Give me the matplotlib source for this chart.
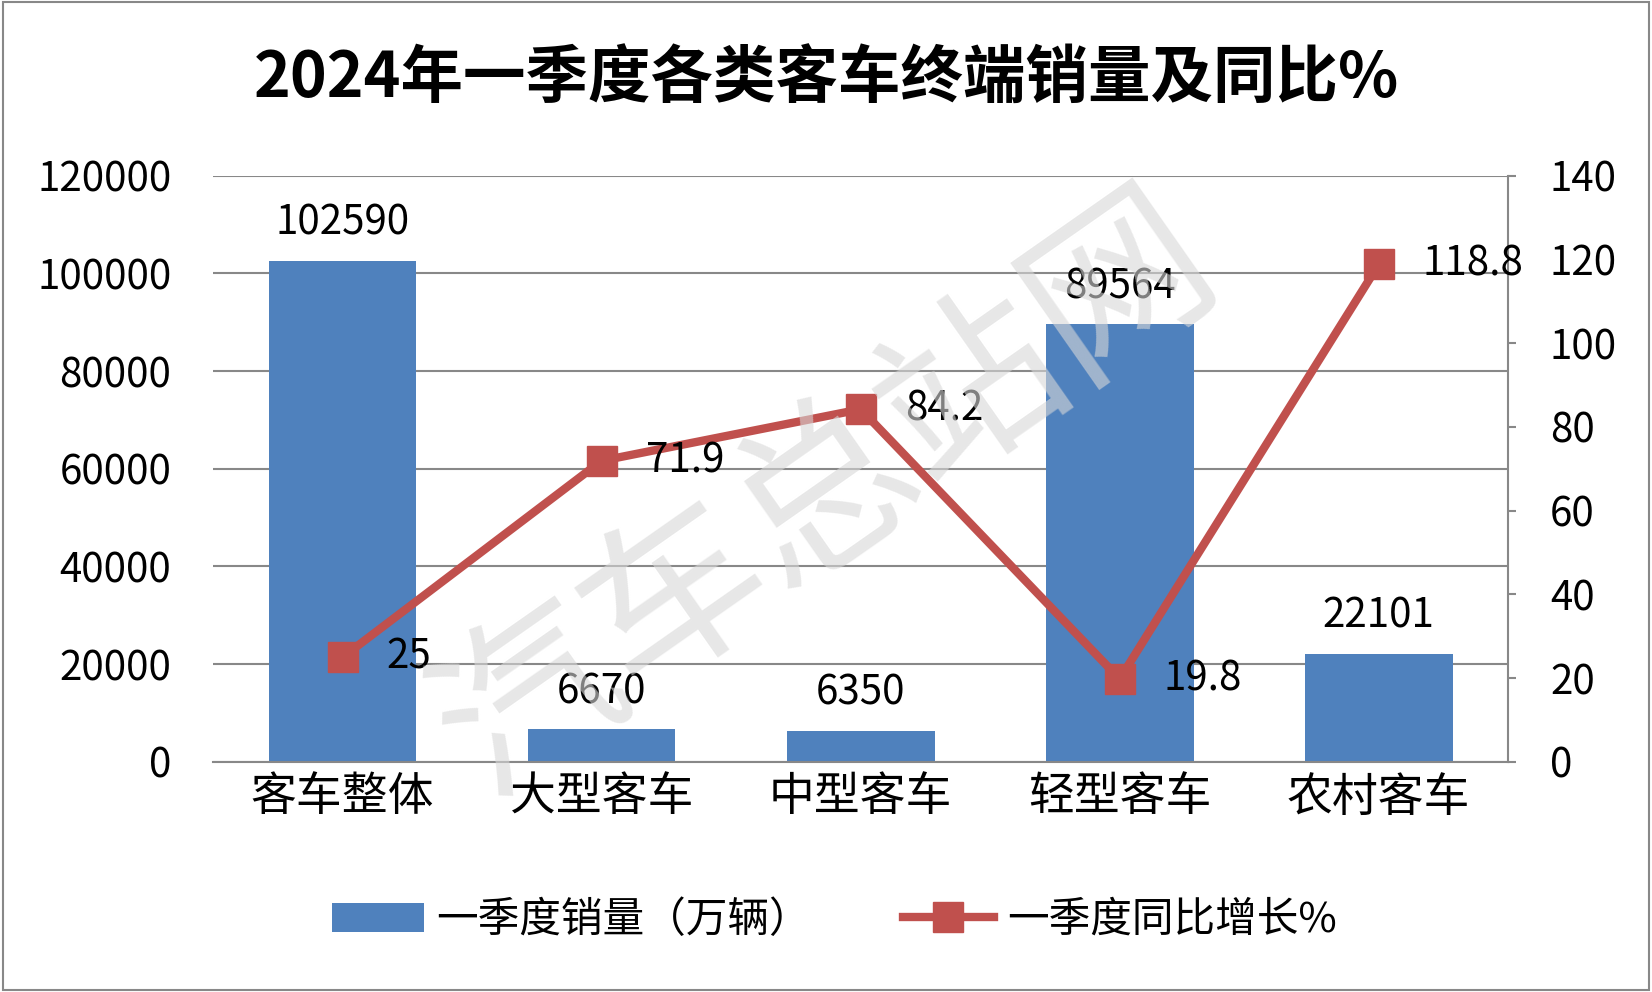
import matplotlib
matplotlib.use("Agg")
import matplotlib.pyplot as plt
from matplotlib.patches import Rectangle

plt.rcParams['font.family'] = ['Noto Sans CJK SC', 'DejaVu Sans']

categories = ['客车整体', '大型客车', '中型客车', '轻型客车', '农村客车']
sales = [102590, 6670, 6350, 89564, 22101]
growth = [25, 71.9, 84.2, 19.8, 118.8]
growth_labels = ['25', '71.9', '84.2', '19.8', '118.8']

fig = plt.figure(figsize=(16.52, 9.92), dpi=100)
fig.patches.append(Rectangle((0.002, 0.002), 0.996, 0.996, transform=fig.transFigure,
                             fill=False, edgecolor='#888888', lw=1.5))
ax = fig.add_axes([0.129, 0.232, 0.784, 0.591])
x = range(len(categories))
blue = '#4F81BD'
red = '#C0504D'
ax.bar(x, sales, width=0.57, color=blue, zorder=2, label='一季度销量（万辆）')
ax.set_ylim(0, 120000)
ax.set_xlim(-0.5, 4.5)
ax.set_yticks(range(0, 120001, 20000))
ax.grid(axis='y', color='#888888', lw=1.5, zorder=0)
for s in ['top', 'right', 'left']:
    ax.spines[s].set_visible(False)
ax.spines['bottom'].set_color('#888888')
ax.spines['bottom'].set_linewidth(1.5)
ax.tick_params(axis='y', length=0, labelsize=29, pad=30)
ax.tick_params(axis='x', length=0, labelsize=33, pad=8)
ax.set_xticks(list(x))
ax.set_xticklabels(categories)
for i, v in enumerate(sales):
    ax.text(i, v + 3500, str(v), ha='center', va='bottom', fontsize=29)

ax2 = ax.twinx()
ax2.plot(list(x), growth, color=red, lw=6, marker='s', markersize=22, zorder=3,
         label='一季度同比增长%')
ax2.set_ylim(0, 140)
ax2.set_yticks(range(0, 141, 20))
for s in ['top', 'left', 'bottom']:
    ax2.spines[s].set_visible(False)
ax2.spines['right'].set_color('#888888')
ax2.spines['right'].set_linewidth(1.5)
ax2.tick_params(axis='y', labelsize=29, color='#888888', length=6, width=1.5, pad=24)
for i, (v, t) in enumerate(zip(growth, growth_labels)):
    ax2.text(i + 0.17, v, t, ha='left', va='center', fontsize=29)

fig.text(0.5, 0.92, '2024年一季度各类客车终端销量及同比%', ha='center', va='center',
         fontsize=45, fontweight='bold')
fig.text(0.5, 0.5, '汽车总站网', ha='center', va='center', fontsize=130,
         color='#d8d8d8', alpha=0.6, rotation=35, zorder=0)

h1, l1 = ax.get_legend_handles_labels()
h2, l2 = ax2.get_legend_handles_labels()
fig.legend(h1 + h2, l1 + l2, loc='center', bbox_to_anchor=(0.505, 0.072), ncol=2,
           frameon=False, fontsize=30, handlelength=2.2, columnspacing=2.2, handletextpad=0.3)
fig.savefig('out.png', dpi=100)
